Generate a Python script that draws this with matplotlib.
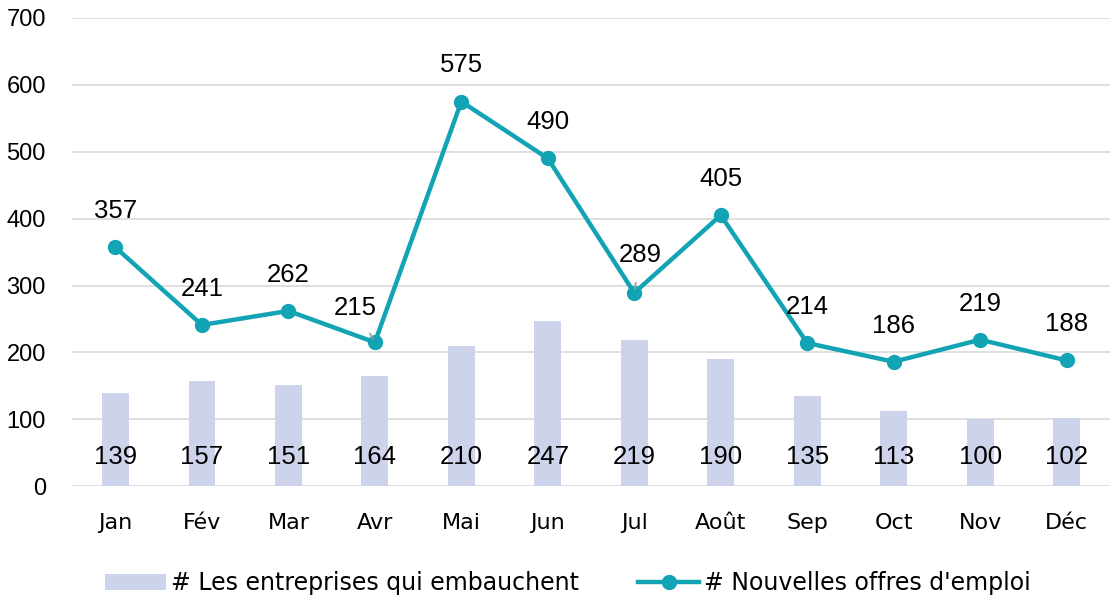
import matplotlib
matplotlib.use("Agg")
import matplotlib.pyplot as plt
from matplotlib.lines import Line2D
from matplotlib.patches import Patch

months = ["Jan", "Fév", "Mar", "Avr", "Mai", "Jun", "Jul", "Août", "Sep", "Oct", "Nov", "Déc"]
entreprises = [139, 157, 151, 164, 210, 247, 219, 190, 135, 113, 100, 102]
offres = [357, 241, 262, 215, 575, 490, 289, 405, 214, 186, 219, 188]

bar_label = "# Les entreprises qui embauchent"
line_label = "# Nouvelles offres d'emploi"

plt.rcParams['font.family'] = ['Liberation Sans', 'DejaVu Sans']
text_font = ['DejaVu Sans']

teal = "#12A3B4"
lav = "#CDD3EB"

fig = plt.figure(figsize=(11.11, 5.98), dpi=100)
ax = fig.add_axes([0.065, 0.187, 0.934, 0.783])

x = list(range(len(months)))
ax.bar(x, entreprises, width=0.31, color=lav, zorder=2)
ax.plot(x, offres, color=teal, lw=3.2, marker='o', ms=10, zorder=3,
        solid_capstyle='round', solid_joinstyle='round')

ax.set_xlim(-0.5, len(months) - 0.5)
ax.set_ylim(0, 700)
ax.set_yticks(range(0, 701, 100))
ax.set_xticks(x)
ax.set_xticklabels(months, family=text_font, fontsize=16)
ax.yaxis.grid(True, color="#D9D9D9", lw=1.2, zorder=0)
ax.set_axisbelow(True)
for s in ax.spines.values():
    s.set_visible(False)
ax.tick_params(axis='both', length=0, labelsize=17, colors='black')
ax.tick_params(axis='x', pad=19)
ax.tick_params(axis='y', pad=19)
for t in ax.get_xticklabels():
    t.set_fontsize(16)

lab_size = 18.5
for i, v in enumerate(entreprises):
    ax.annotate(str(v), (i, 0), xytext=(0, 21), textcoords='offset points',
                ha='center', va='center', fontsize=lab_size, zorder=4)

offsets = {3: (-14, 25), 6: (4, 27)}
for i, v in enumerate(offres):
    dx, dy = offsets.get(i, (0, 26))
    if i in offsets:
        ax.annotate(str(v), (i, v), xytext=(dx, dy), textcoords='offset points',
                    ha='center', va='center', fontsize=lab_size, zorder=4,
                    arrowprops=dict(arrowstyle='-', color='#A0A0A0', lw=1.2,
                                    shrinkA=9, shrinkB=3))
    else:
        ax.annotate(str(v), (i, v), xytext=(dx, dy), textcoords='offset points',
                    ha='center', va='center', fontsize=lab_size, zorder=4)

handles = [Patch(facecolor=lav, edgecolor='none'),
           Line2D([0], [0], color=teal, lw=3.2, marker='o', ms=10)]
fig.legend(handles, [bar_label, line_label], loc='center', bbox_to_anchor=(0.511, 0.025),
           ncol=2, frameon=False, prop={'family': text_font, 'size': 17},
           handlelength=2.6, handletextpad=0.2, columnspacing=2.5)

fig.savefig("out.png", dpi=100)
